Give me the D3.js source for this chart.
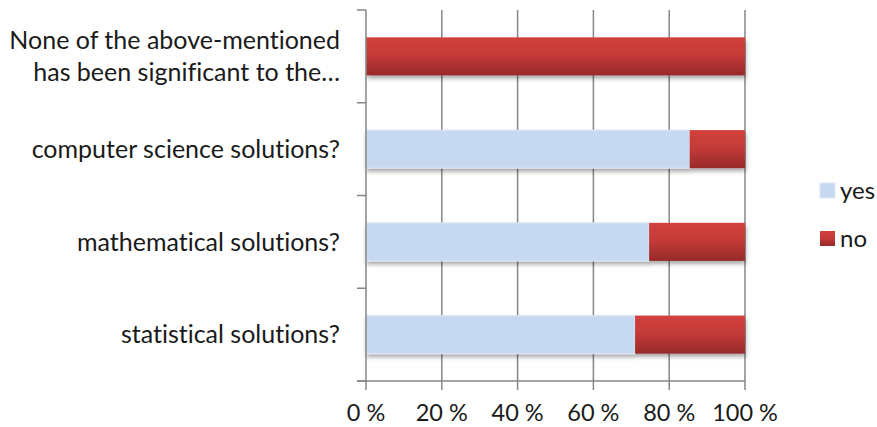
<!DOCTYPE html>
<html><head><meta charset="utf-8">
<script src="https://cdn.jsdelivr.net/npm/d3@7"></script>
<style>
body{margin:0;background:#fff;}
svg{display:block;font-family:Lato,"Open Sans",sans-serif;font-variant-ligatures:none;}
</style></head>
<body><svg id="chart" width="877" height="427"></svg>
<script>
const categories = [
  "None of the above-mentioned\nhas been significant to the…",
  "computer science solutions?",
  "mathematical solutions?",
  "statistical solutions?"
];
const yesValues = [0, 85.4, 74.7, 71.0];
const noValues  = [100, 14.6, 25.3, 29.0];
const seriesNames = ["yes", "no"];
const xTicks = [0, 20, 40, 60, 80, 100];

(function(){
const svg = d3.select("#chart");
const pLeft = 366, pRight = 745, pTop = 10, pBottom = 381;

const x = d3.scaleLinear().domain([0, 100]).range([pLeft, pRight]);
const y = d3.scaleBand().domain(categories).range([pTop, pBottom]).paddingInner(0.59).paddingOuter(0.295);

const defs = svg.append("defs");
const grad = defs.append("linearGradient").attr("id","redGrad").attr("x1",0).attr("y1",0).attr("x2",0).attr("y2",1);
grad.append("stop").attr("offset","0%").attr("stop-color","#d2403d");
grad.append("stop").attr("offset","45%").attr("stop-color","#c43b38");
grad.append("stop").attr("offset","100%").attr("stop-color","#982a2a");
const f = defs.append("filter").attr("id","shadow").attr("x","-5%").attr("y","-20%").attr("width","110%").attr("height","160%");
f.append("feDropShadow").attr("dx",1).attr("dy",3).attr("stdDeviation",2).attr("flood-color","#000").attr("flood-opacity",0.35);

// gridlines
svg.append("g").selectAll("line").data(xTicks.slice(1)).join("line")
  .attr("x1", d => x(d)).attr("x2", d => x(d))
  .attr("y1", pTop).attr("y2", pBottom)
  .attr("stroke", "#868686").attr("stroke-width", 1.5);

// bars
const rows = categories.map((c, i) => ({c, yes: yesValues[i], no: noValues[i]}));
const g = svg.append("g");
rows.forEach(r => {
  const grp = g.append("g").attr("filter","url(#shadow)");
  if (r.yes > 0) {
    grp.append("rect")
      .attr("x", x(0)).attr("y", y(r.c))
      .attr("width", x(r.yes) - x(0)).attr("height", y.bandwidth())
      .attr("fill", "#c6d9f1").attr("stroke", "#dce7f5").attr("stroke-width", 1);
  }
  grp.append("rect")
    .attr("x", x(r.yes)).attr("y", y(r.c))
    .attr("width", x(r.yes + r.no) - x(r.yes)).attr("height", y.bandwidth())
    .attr("fill", "url(#redGrad)");
});

// axes
const ax = svg.append("g").attr("stroke", "#868686").attr("stroke-width", 1.5);
ax.append("line").attr("x1", pLeft).attr("x2", pLeft).attr("y1", pTop).attr("y2", pBottom);
ax.append("line").attr("x1", pLeft - 9).attr("x2", pRight).attr("y1", pBottom).attr("y2", pBottom);
const yBounds = categories.map(c => y(c) - y.step()*y.paddingInner()/2).concat([pBottom]);
ax.selectAll(".yt").data(yBounds).join("line")
  .attr("x1", pLeft - 9).attr("x2", pLeft).attr("y1", d => d).attr("y2", d => d);
ax.selectAll(".xt").data(xTicks).join("line")
  .attr("x1", d => x(d)).attr("x2", d => x(d)).attr("y1", pBottom).attr("y2", pBottom + 9);

// x tick labels
svg.append("g").selectAll("text").data(xTicks).join("text")
  .attr("x", d => x(d)).attr("y", 421)
  .attr("text-anchor", "middle").attr("font-size", 23.5).attr("fill", "#1a1a1a")
  .text(d => d + " %");

// category labels
const lab = svg.append("g").selectAll("text").data(categories).join("text")
  .attr("text-anchor", "end").attr("font-size", 25).attr("fill", "#1a1a1a")
  .attr("x", 340)
  .attr("y", d => y(d) + y.bandwidth()/2);
lab.each(function(d){
  const lines = d.split("\n");
  const t = d3.select(this);
  lines.forEach((ln, i) => {
    t.append("tspan").attr("x", 340)
      .attr("dy", i === 0 ? ((-(lines.length-1)/2)*1.3 + 0.35) + "em" : "1.3em")
      .text(ln);
  });
});

// legend
const colors = {yes: "#c6d9f1", no: "url(#redGrad)"};
const leg = svg.append("g");
seriesNames.forEach((s, i) => {
  const yy = 183 + i * 48;
  leg.append("rect").attr("x", 820).attr("y", yy).attr("width", 15).attr("height", 15)
    .attr("fill", colors[s]).attr("stroke", s === "yes" ? "#dce7f5" : "none");
  leg.append("text").attr("x", 840).attr("y", yy + 7.5).attr("dy", "0.35em")
    .attr("font-size", 24).attr("fill", "#1a1a1a").text(s);
});
})();
</script></body></html>
